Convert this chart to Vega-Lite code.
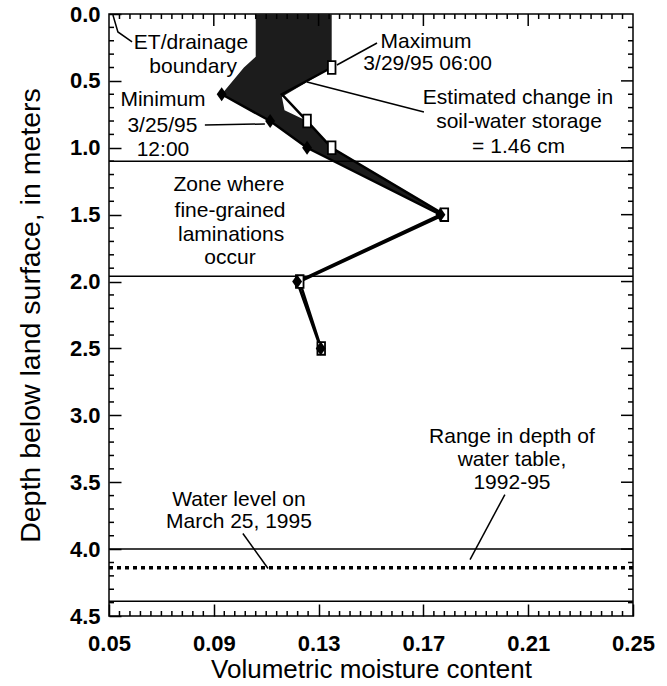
{
  "$schema": "https://vega.github.io/schema/vega-lite/v6.json",
  "width": 524,
  "height": 602,
  "autosize": "none",
  "padding": {"left": 109, "top": 14, "right": 34, "bottom": 70},
  "background": "white",
  "config": {
    "view": {"stroke": "black", "strokeWidth": 1.5},
    "axis": {
      "grid": false,
      "domain": false,
      "labelColor": "black",
      "titleColor": "black",
      "labelFont": "Liberation Sans",
      "titleFont": "Liberation Sans",
      "labelFontWeight": "bold",
      "labelFontSize": 22,
      "titleFontSize": 26,
      "titleFontWeight": "normal",
      "labelFlush": false,
      "labelOverlap": false
    },
    "text": {"font": "Liberation Sans", "fontSize": 21, "color": "black"}
  },
  "datasets": {
    "envelope": [
      {"depth": 0.0, "lo": 0.106, "hi": 0.135},
      {"depth": 0.32, "lo": 0.106, "hi": 0.135},
      {"depth": 0.4, "lo": 0.1015, "hi": 0.135},
      {"depth": 0.6, "lo": 0.093, "hi": 0.1177},
      {"depth": 0.62, "lo": 0.0949, "hi": 0.116},
      {"depth": 0.72, "lo": 0.104, "hi": 0.117},
      {"depth": 0.8, "lo": 0.1115, "hi": 0.1256},
      {"depth": 1.0, "lo": 0.1256, "hi": 0.135},
      {"depth": 1.5, "lo": 0.1765, "hi": 0.178}
    ],
    "profiles": [
      {"series": "max", "depth": 0.4, "x": 0.135},
      {"series": "max", "depth": 0.6, "x": 0.116},
      {"series": "max", "depth": 0.8, "x": 0.1256},
      {"series": "max", "depth": 1.0, "x": 0.135},
      {"series": "max", "depth": 1.5, "x": 0.178},
      {"series": "max", "depth": 2.0, "x": 0.1228},
      {"series": "max", "depth": 2.5, "x": 0.131},
      {"series": "min", "depth": 0.6, "x": 0.093},
      {"series": "min", "depth": 0.8, "x": 0.1115},
      {"series": "min", "depth": 1.0, "x": 0.1256},
      {"series": "min", "depth": 1.5, "x": 0.1765},
      {"series": "min", "depth": 2.0, "x": 0.1218},
      {"series": "min", "depth": 2.5, "x": 0.1308}
    ],
    "hlines": [
      {"depth": 1.1},
      {"depth": 1.96},
      {"depth": 4.0},
      {"depth": 4.39}
    ],
    "dotted": [
      {"depth": 4.14}
    ],
    "xmajor": [{"v": 0.09}, {"v": 0.13}, {"v": 0.17}, {"v": 0.21}],
    "xminor": [
      {"v": 0.054}, {"v": 0.058}, {"v": 0.062}, {"v": 0.066}, {"v": 0.07}, {"v": 0.074}, {"v": 0.078}, {"v": 0.082}, {"v": 0.086},
      {"v": 0.094}, {"v": 0.098}, {"v": 0.102}, {"v": 0.106}, {"v": 0.11}, {"v": 0.114}, {"v": 0.118}, {"v": 0.122}, {"v": 0.126},
      {"v": 0.134}, {"v": 0.138}, {"v": 0.142}, {"v": 0.146}, {"v": 0.15}, {"v": 0.154}, {"v": 0.158}, {"v": 0.162}, {"v": 0.166},
      {"v": 0.174}, {"v": 0.178}, {"v": 0.182}, {"v": 0.186}, {"v": 0.19}, {"v": 0.194}, {"v": 0.198}, {"v": 0.202}, {"v": 0.206},
      {"v": 0.214}, {"v": 0.218}, {"v": 0.222}, {"v": 0.226}, {"v": 0.23}, {"v": 0.234}, {"v": 0.238}, {"v": 0.242}, {"v": 0.246}
    ],
    "ymajor": [{"v": 0.5}, {"v": 1.0}, {"v": 1.5}, {"v": 2.0}, {"v": 2.5}, {"v": 3.0}, {"v": 3.5}, {"v": 4.0}],
    "yminor": [
      {"v": 0.1}, {"v": 0.2}, {"v": 0.3}, {"v": 0.4}, {"v": 0.6}, {"v": 0.7}, {"v": 0.8}, {"v": 0.9},
      {"v": 1.1}, {"v": 1.2}, {"v": 1.3}, {"v": 1.4}, {"v": 1.6}, {"v": 1.7}, {"v": 1.8}, {"v": 1.9},
      {"v": 2.1}, {"v": 2.2}, {"v": 2.3}, {"v": 2.4}, {"v": 2.6}, {"v": 2.7}, {"v": 2.8}, {"v": 2.9},
      {"v": 3.1}, {"v": 3.2}, {"v": 3.3}, {"v": 3.4}, {"v": 3.6}, {"v": 3.7}, {"v": 3.8}, {"v": 3.9},
      {"v": 4.1}, {"v": 4.2}, {"v": 4.3}, {"v": 4.4}
    ],
    "leaders": [
      {"id": "et", "ord": 1, "x": 0.0515, "depth": 0.0075},
      {"id": "et", "ord": 2, "x": 0.0534, "depth": 0.134},
      {"id": "et", "ord": 3, "x": 0.0588, "depth": 0.209},
      {"id": "max", "ord": 1, "x": 0.137, "depth": 0.381},
      {"id": "max", "ord": 2, "x": 0.1523, "depth": 0.217},
      {"id": "est", "ord": 1, "x": 0.1256, "depth": 0.508},
      {"id": "est", "ord": 2, "x": 0.1702, "depth": 0.732},
      {"id": "min", "ord": 1, "x": 0.0866, "depth": 0.829},
      {"id": "min", "ord": 2, "x": 0.1095, "depth": 0.822},
      {"id": "wl", "ord": 1, "x": 0.1011, "depth": 3.883},
      {"id": "wl", "ord": 2, "x": 0.1107, "depth": 4.145},
      {"id": "rng", "ord": 1, "x": 0.1878, "depth": 4.078},
      {"id": "rng", "ord": 2, "x": 0.2011, "depth": 3.592}
    ],
    "labels": [
      {"x": 0.0813, "depth": 0.217, "t": "ET/drainage"},
      {"x": 0.0821, "depth": 0.396, "t": "boundary"},
      {"x": 0.171, "depth": 0.209, "t": "Maximum"},
      {"x": 0.1716, "depth": 0.373, "t": "3/29/95 06:00"},
      {"x": 0.2061, "depth": 0.627, "t": "Estimated change in"},
      {"x": 0.2065, "depth": 0.807, "t": "soil-water storage"},
      {"x": 0.2063, "depth": 0.993, "t": "= 1.46 cm"},
      {"x": 0.0706, "depth": 0.642, "t": "Minimum"},
      {"x": 0.0704, "depth": 0.836, "t": "3/25/95"},
      {"x": 0.0706, "depth": 1.016, "t": "12:00"},
      {"x": 0.0958, "depth": 1.277, "t": "Zone where"},
      {"x": 0.0962, "depth": 1.471, "t": "fine-grained"},
      {"x": 0.0966, "depth": 1.65, "t": "laminations"},
      {"x": 0.0962, "depth": 1.822, "t": "occur"},
      {"x": 0.2038, "depth": 3.159, "t": "Range in depth of"},
      {"x": 0.2038, "depth": 3.331, "t": "water table,"},
      {"x": 0.2038, "depth": 3.503, "t": "1992-95"},
      {"x": 0.0996, "depth": 3.63, "t": "Water level on"},
      {"x": 0.0996, "depth": 3.801, "t": "March 25, 1995"}
    ]
  },
  "layer": [
    {
      "data": {"name": "envelope"},
      "mark": {"type": "area", "orient": "horizontal", "color": "#1c1c1c", "opacity": 1},
      "encoding": {
        "y": {
          "field": "depth", "type": "quantitative",
          "scale": {"domain": [0, 4.5], "reverse": true, "nice": false, "zero": false},
          "axis": {"orient": "left", "values": [0, 0.5, 1, 1.5, 2, 2.5, 3, 3.5, 4, 4.5], "format": ".1f", "tickColor": "black", "tickWidth": 1.5, "tickSize": -12, "labelPadding": 21, "title": "Depth below land surface, in meters", "titleFontSize": 28.5, "titlePadding": 24}
        },
        "x": {
          "field": "lo", "type": "quantitative",
          "scale": {"domain": [0.05, 0.25], "nice": false, "zero": false},
          "axis": {"orient": "bottom", "values": [0.05, 0.09, 0.13, 0.17, 0.21, 0.25], "format": ".2f", "tickColor": "black", "tickWidth": 1.5, "tickSize": -12, "labelPadding": 29, "title": "Volumetric moisture content", "titlePadding": 2}
        },
        "x2": {"field": "hi"}
      }
    },
    {
      "data": {"name": "hlines"},
      "mark": {"type": "rule", "color": "black", "strokeWidth": 1.5},
      "encoding": {
        "y": {"field": "depth", "type": "quantitative"}
      }
    },
    {
      "data": {"name": "dotted"},
      "mark": {"type": "rule", "color": "black", "strokeWidth": 3.5, "strokeDash": [4, 4]},
      "encoding": {
        "y": {"field": "depth", "type": "quantitative"}
      }
    },
    {
      "data": {"name": "profiles"},
      "mark": {"type": "line", "color": "black", "strokeWidth": 2.5},
      "encoding": {
        "x": {"field": "x", "type": "quantitative"},
        "y": {"field": "depth", "type": "quantitative"},
        "detail": {"field": "series"},
        "order": {"field": "depth", "type": "quantitative"}
      }
    },
    {
      "data": {"name": "leaders"},
      "mark": {"type": "line", "color": "black", "strokeWidth": 1.5},
      "encoding": {
        "x": {"field": "x", "type": "quantitative"},
        "y": {"field": "depth", "type": "quantitative"},
        "detail": {"field": "id"},
        "order": {"field": "ord", "type": "quantitative"}
      }
    },
    {
      "data": {"name": "profiles"},
      "transform": [{"filter": "datum.series == 'max' && datum.depth != 0.6"}],
      "mark": {"type": "point", "shape": "M-0.6,-1H0.6V1H-0.6Z", "filled": true, "fill": "white", "stroke": "black", "strokeWidth": 1.8, "size": 160, "opacity": 1},
      "encoding": {
        "x": {"field": "x", "type": "quantitative"},
        "y": {"field": "depth", "type": "quantitative"}
      }
    },
    {
      "data": {"name": "profiles"},
      "transform": [{"filter": "datum.series == 'min'"}],
      "mark": {"type": "point", "shape": "M0,-1L0.7,0L0,1L-0.7,0Z", "filled": true, "color": "black", "size": 200, "opacity": 1},
      "encoding": {
        "x": {"field": "x", "type": "quantitative"},
        "y": {"field": "depth", "type": "quantitative"}
      }
    },
    {
      "data": {"name": "xminor"},
      "mark": {"type": "rule", "color": "black", "strokeWidth": 1.5},
      "encoding": {
        "x": {"field": "v", "type": "quantitative"},
        "y": {"datum": 4.5, "type": "quantitative"},
        "y2": {"datum": 4.4626}
      }
    },
    {
      "data": {"name": "xminor"},
      "mark": {"type": "rule", "color": "black", "strokeWidth": 1.5},
      "encoding": {
        "x": {"field": "v", "type": "quantitative"},
        "y": {"datum": 0, "type": "quantitative"},
        "y2": {"datum": 0.0374}
      }
    },
    {
      "data": {"name": "xmajor"},
      "mark": {"type": "rule", "color": "black", "strokeWidth": 1.5},
      "encoding": {
        "x": {"field": "v", "type": "quantitative"},
        "y": {"datum": 0, "type": "quantitative"},
        "y2": {"datum": 0.0897}
      }
    },
    {
      "data": {"name": "yminor"},
      "mark": {"type": "rule", "color": "black", "strokeWidth": 1.5},
      "encoding": {
        "y": {"field": "v", "type": "quantitative"},
        "x": {"datum": 0.05, "type": "quantitative"},
        "x2": {"datum": 0.05191}
      }
    },
    {
      "data": {"name": "yminor"},
      "mark": {"type": "rule", "color": "black", "strokeWidth": 1.5},
      "encoding": {
        "y": {"field": "v", "type": "quantitative"},
        "x": {"datum": 0.25, "type": "quantitative"},
        "x2": {"datum": 0.24809}
      }
    },
    {
      "data": {"name": "ymajor"},
      "mark": {"type": "rule", "color": "black", "strokeWidth": 1.5},
      "encoding": {
        "y": {"field": "v", "type": "quantitative"},
        "x": {"datum": 0.25, "type": "quantitative"},
        "x2": {"datum": 0.24542}
      }
    },
    {
      "data": {"name": "labels"},
      "mark": {"type": "text", "align": "center", "baseline": "middle", "font": "Liberation Sans", "fontSize": 21, "color": "black"},
      "encoding": {
        "x": {"field": "x", "type": "quantitative"},
        "y": {"field": "depth", "type": "quantitative"},
        "text": {"field": "t"}
      }
    }
  ]
}
